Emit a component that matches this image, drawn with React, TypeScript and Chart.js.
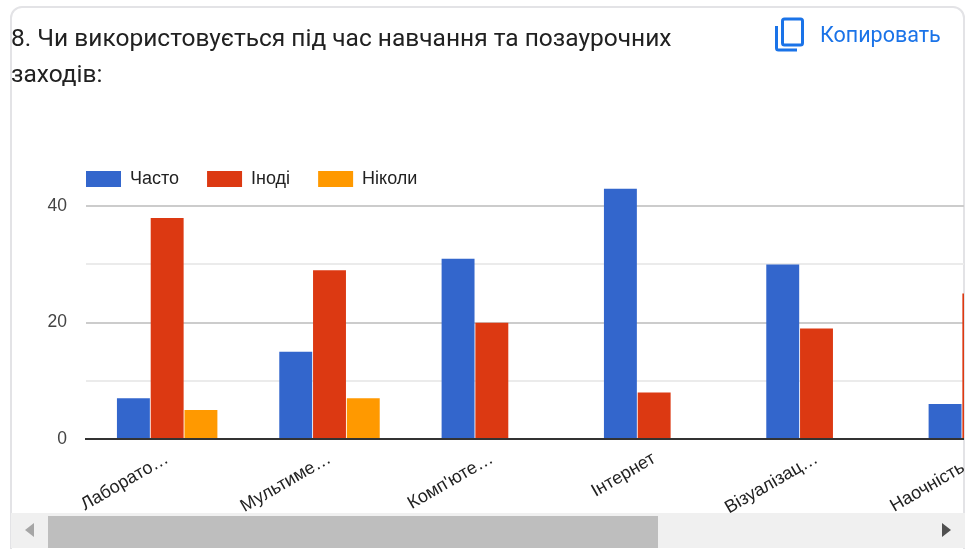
import React, { useEffect, useRef } from "react";
import { Chart, registerables } from "chart.js";

Chart.register(...registerables);

const title = "8. Чи використовується під час навчання та позаурочних заходів:";
const copyLabel = "Копировать";
const categories = ["Лаборато…", "Мультиме…", "Комп'юте…", "Інтернет", "Візуалізац…", "Наочність…"];
const often = [7, 15, 31, 43, 30, 6];
const sometimes = [38, 29, 20, 8, 19, 25];
const never = [5, 7, 0, 0, 0, 0];
const seriesNames = ["Часто", "Іноді", "Ніколи"];
const seriesColors = ["#3366cc", "#dc3912", "#ff9900"];
const yLabelled = [0, 20, 40];

const FONT = "Arial, 'Liberation Sans', sans-serif";

const placeLegend = {
  id: "placeLegend",
  afterLayout(chart: any) {
    const legend = chart.legend;
    if (legend) {
      legend.left = 58;
      legend.top = 142;
      legend.bottom = 220;
    }
  },
};

export default function App() {
  const ref = useRef<HTMLCanvasElement>(null);
  useEffect(() => {
    const values = [often, sometimes, never];
    const chart = new Chart(ref.current!, {
      type: "bar",
      data: {
        labels: categories,
        datasets: seriesNames.map((name, i) => ({
          label: name,
          data: values[i],
          backgroundColor: seriesColors[i],
          borderWidth: 0,
          categoryPercentage: 0.624,
          barPercentage: 0.975,
        })),
      },
      options: {
        responsive: false,
        animation: false,
        layout: { padding: { top: 127, left: 0, right: 0, bottom: 0 } },
        plugins: {
          tooltip: { enabled: false },
          legend: {
            position: "top",
            align: "start",
            labels: {
              boxWidth: 35,
              boxHeight: 16,
              padding: 28,
              color: "#222222",
              font: { family: FONT, size: 18 },
            },
          },
        },
        scales: {
          x: {
            grid: { display: false },
            border: { display: true, color: "#333333", width: 2, z: 1 },
            afterFit(axis: any) {
              axis.height = 74;
            },
            ticks: {
              minRotation: 30,
              maxRotation: 30,
              autoSkip: false,
              padding: 1,
              color: "#222222",
              font: { family: FONT, size: 18 },
            },
          },
          y: {
            min: 0,
            max: 44,
            border: { display: false },
            grid: {
              drawTicks: false,
              lineWidth: 2,
              color: (ctx: any) => {
                const v = ctx.tick?.value;
                if (v === 0) return "rgba(0,0,0,0)";
                return yLabelled.includes(v) ? "#cccccc" : "#ebebeb";
              },
            },
            afterFit(axis: any) {
              axis.width = 86;
            },
            ticks: {
              stepSize: 10,
              includeBounds: false,
              padding: 19,
              color: "#444444",
              font: { family: FONT, size: 17.5 },
              callback: (v: any) => (yLabelled.includes(v) ? String(v) : ""),
            },
          },
        },
      },
      plugins: [placeLegend],
    } as any);
    return () => chart.destroy();
  }, []);

  return (
    <div style={{ position: "absolute", left: 0, top: 0, width: 969, height: 549, overflow: "hidden", background: "#fff" }}>
      <div style={{ position: "absolute", left: 10, top: 6, width: 955, height: 560, border: "2px solid #e3e3e6", borderRadius: 12, boxSizing: "border-box" }} />
      <div style={{ position: "absolute", left: 0, top: 0, width: 964, height: 513, overflow: "hidden" }}>
        <canvas ref={ref} width={1060} height={513} style={{ display: "block", width: 1060, height: 513 }} />
      </div>
      <div style={{ position: "absolute", left: 11, top: 20, width: 720, fontFamily: "Roboto, sans-serif", fontSize: 24.5, lineHeight: "36px", color: "#212121" }}>
        {title}
      </div>
      <svg style={{ position: "absolute", left: 770, top: 15 }} width="40" height="40" viewBox="0 0 40 40" fill="none" stroke="#1a73e8" strokeWidth="3">
        <rect x="12.5" y="4" width="20" height="26" rx="2" />
        <path d="M6.5 11 V33 a2 2 0 0 0 2 2 H27" />
      </svg>
      <div style={{ position: "absolute", left: 820, top: 22, fontFamily: "Roboto, sans-serif", fontSize: 21.5, lineHeight: "26px", color: "#1a73e8", fontWeight: 400 }}>
        {copyLabel}
      </div>
      <div style={{ position: "absolute", left: 11, top: 513, width: 954, height: 35, background: "#f0f0f0" }} />
      <div style={{ position: "absolute", left: 48, top: 516, width: 610, height: 32, background: "#bebebe" }} />
      <svg style={{ position: "absolute", left: 20, top: 520 }} width="20" height="20" viewBox="0 0 20 20">
        <path d="M14 3 V17 L5 10 Z" fill="#a6a6a6" />
      </svg>
      <svg style={{ position: "absolute", left: 938, top: 520 }} width="20" height="20" viewBox="0 0 20 20">
        <path d="M4 3 V17 L13 10 Z" fill="#505050" />
      </svg>
    </div>
  );
}
